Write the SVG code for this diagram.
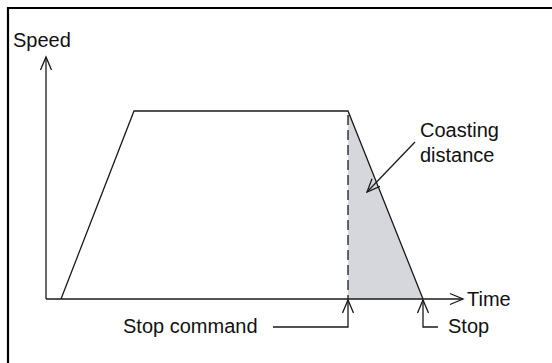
<svg xmlns="http://www.w3.org/2000/svg" width="552" height="363" viewBox="0 0 552 363">
  <defs>
    <style>
      .ln { fill: none; stroke: #1a1a1a; stroke-width: 1.3; }
      .lbl { font-family: "Liberation Sans", Arial, sans-serif; font-size: 20px; fill: #111; }
    </style>
    <marker id="open" viewBox="-14 -7 16 14" markerWidth="16" markerHeight="14" refX="0" refY="0" orient="auto" markerUnits="userSpaceOnUse">
      <path d="M-13,-5.5 L0,0 L-13,5.5" fill="none" stroke="#1a1a1a" stroke-width="1.3"/>
    </marker>
  </defs>
  <rect width="552" height="363" fill="#fff"/>

  <!-- outer frame -->
  <path d="M8,363 V8 H552" fill="none" stroke="#000" stroke-width="2.2"/>

  <!-- coasting area -->
  <g id="coasting-area">
    <polygon points="348,111 423,299 348,299" fill="#d5d7dc"/>
  </g>

  <!-- speed profile -->
  <g id="profile">
    <polyline class="ln" points="61,299 134,111 348,111 423,299"/>
    <line class="ln" x1="348" y1="113" x2="348" y2="299" stroke-dasharray="10 5" stroke-dashoffset="-2"/>
  </g>

  <!-- axes -->
  <g id="axes">
    <line class="ln" x1="46" y1="299" x2="46" y2="57" marker-end="url(#open)"/>
    <line class="ln" x1="46" y1="299" x2="463" y2="299" marker-end="url(#open)"/>
    <text class="lbl" x="13" y="47">Speed</text>
    <text class="lbl" x="467" y="306">Time</text>
  </g>

  <!-- callouts -->
  <g id="connectors">
    <path class="ln" d="M415,142 L367,192" marker-end="url(#open)"/>
    <path class="ln" d="M273,327 H348 V300" marker-end="url(#open)"/>
    <path class="ln" d="M438,327 H423 V300" marker-end="url(#open)"/>
  </g>

  <g id="label-coasting">
    <text class="lbl" x="420" y="137">Coasting</text>
    <text class="lbl" x="420" y="162">distance</text>
  </g>
  <g id="label-stop-command">
    <text class="lbl" x="123" y="333">Stop command</text>
  </g>
  <g id="label-stop">
    <text class="lbl" x="448" y="333">Stop</text>
  </g>
</svg>
